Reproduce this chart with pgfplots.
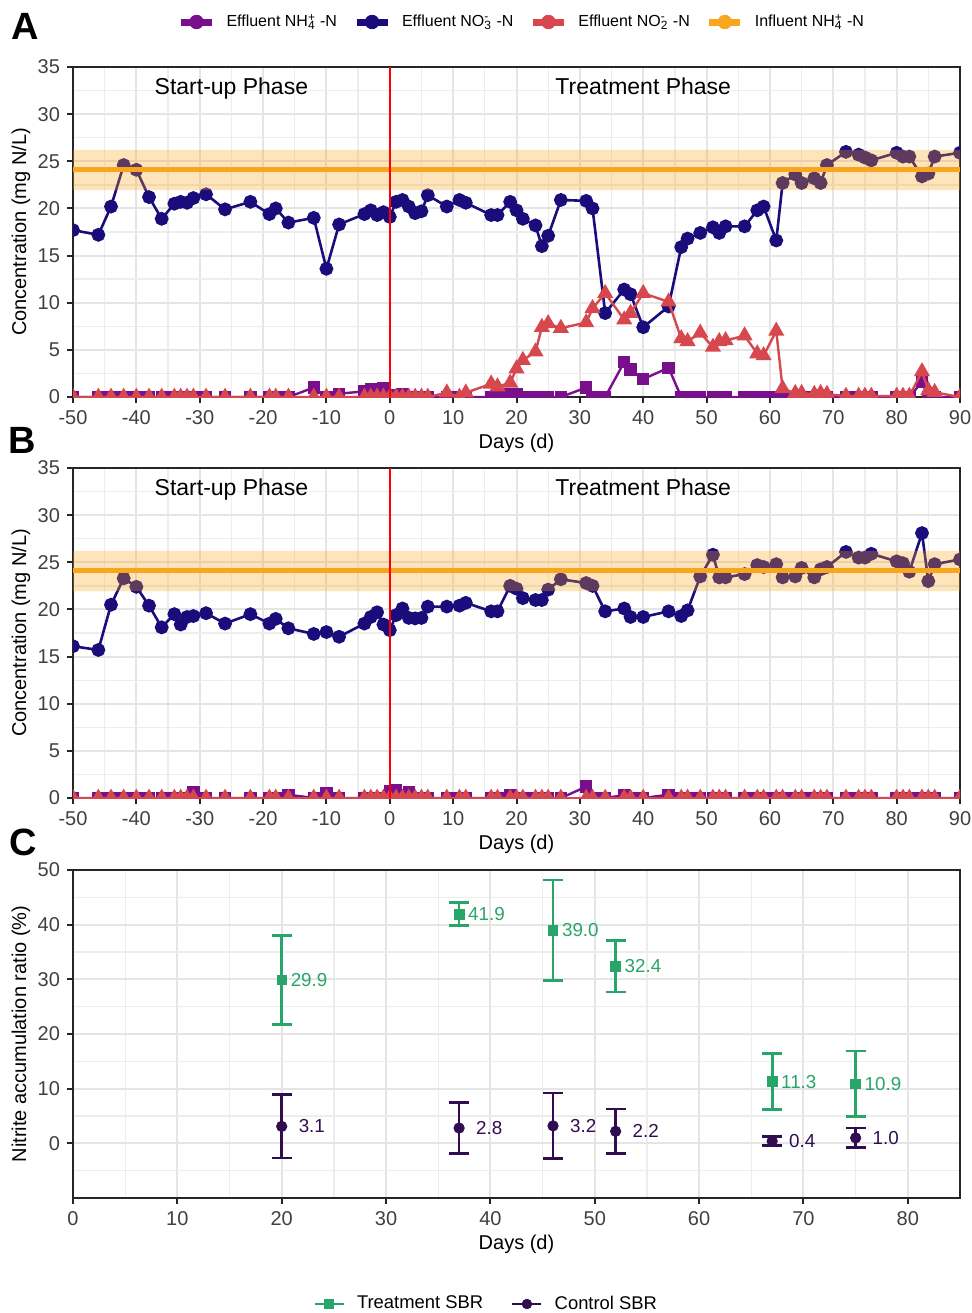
\documentclass[border=0pt]{standalone}
\usepackage{fontspec}
\setmainfont{Liberation Sans}
\usepackage{pgfplots}
\usepackage{pgfplotstable}
\pgfplotsset{compat=1.18}

\definecolor{nhfour}{RGB}{122,15,140}
\definecolor{nothree}{RGB}{26,12,122}
\definecolor{notwo}{RGB}{215,72,78}
\definecolor{infl}{RGB}{250,165,30}
\definecolor{trt}{RGB}{40,165,105}
\definecolor{ctl}{RGB}{50,12,80}

% Reactor A (treatment): effluent nitrogen species
\pgfplotstableread{
day  no3   no2   nh4
-50  17.7  0     0
-46  17.2  0     0
-44  20.2  0     0
-42  24.6  0     0
-40  24.1  0     0
-38  21.2  0     0
-36  18.9  0     0
-34  20.5  0     0
-33  20.7  0     0
-32  20.6  0     0
-31  21.1  0     0
-29  21.5  0     0
-26  19.9  0     0
-22  20.7  0     0
-19  19.4  0     0
-18  20.0  0     0
-16  18.5  0     0
-12  19.0  0     1.0
-10  13.6  0     0
-8   18.3  0     0.35
-4   19.4  0     0.6
-3   19.8  0     0.85
-2   19.3  0     0.3
-1   19.6  0     0.95
0    19.1  0     0
1    20.7  0     0.2
2    20.9  0     0.35
3    20.2  0     0
4    19.5  0     0
5    19.7  0     0
6    21.4  0     0
9    20.2  0.45  0
11   20.9  0     0
12   20.6  0.45  0
16   19.3  1.4   0
17   19.3  1.1   0
19   20.7  1.5   0.35
20   19.8  3.0   0.35
21   18.9  3.9   0
23   18.2  4.8   0
24   16.0  7.4   0
25   17.1  7.8   0
27   20.9  7.3   0
31   20.8  7.9   1.0
32   20.0  9.4   0
34   8.9   11.0  0
37   11.4  8.2   3.7
38   10.9  8.9   2.9
40   7.4   11.0  1.9
44   9.6   10.1  3.1
46   15.9  6.2   0
47   16.8  5.9   0
49   17.4  6.8   0
51   18.0  5.3   0
52   17.4  5.9   0
53   18.1  6.0   0
56   18.1  6.5   0
58   19.8  4.6   0
59   20.2  4.4   0
61   16.6  7.0   0
62   22.7  0.9   0
64   23.6  0.4   0
65   22.7  0.4   0
67   23.2  0.3   0
68   22.7  0.4   0
69   24.6  0.3   0
72   26.0  0.1   0
74   25.7  0.1   0
75   25.4  0.1   0
76   25.1  0.1   0
80   25.9  0.1   0
81   25.5  0.1   0
82   25.5  0.1   0
84   23.4  2.7   1.6
85   23.7  0.7   0
86   25.5  0.5   0
90   25.9  0     0
}\dataA

% Reactor B (control): effluent nitrogen species
\pgfplotstableread{
day  no3   no2   nh4
-50  16.1  0     0
-46  15.7  0     0
-44  20.5  0     0
-42  23.3  0     0
-40  22.4  0     0
-38  20.4  0     0
-36  18.1  0     0
-34  19.5  0     0
-33  18.4  0     0
-32  19.2  0     0
-31  19.3  0     0.6
-29  19.6  0     0
-26  18.5  0     0
-22  19.5  0     0
-19  18.5  0     0
-18  19.0  0     0
-16  18.0  0     0.35
-12  17.4  0     0
-10  17.6  0     0.5
-8   17.1  0     0
-4   18.5  0     0
-3   19.2  0     0
-2   19.7  0     0
-1   18.4  0     0
0    17.8  0     0.7
1    19.4  0     0.8
2    20.1  0     0
3    19.1  0     0.6
4    19.05 0     0
5    19.1  0     0
6    20.3  0     0
9    20.3  0     0
11   20.4  0     0
12   20.7  0     0
16   19.8  0     0
17   19.8  0     0
19   22.5  0     0.3
20   22.2  0     0
21   21.2  0     0
23   21.0  0     0
24   21.0  0     0
25   22.1  0     0
27   23.2  0     0
31   22.8  0     1.2
32   22.5  0     0
34   19.8  0     0
37   20.1  0     0.3
38   19.2  0     0
40   19.2  0     0
44   19.8  0     0.35
46   19.3  0     0
47   19.9  0     0
49   23.5  0     0
51   25.8  0     0
52   23.4  0     0
53   23.4  0     0
56   23.75 0     0
58   24.7  0     0
59   24.5  0     0
61   24.8  0     0
62   23.4  0     0
64   23.5  0     0
65   24.4  0     0
67   23.4  0     0
68   24.25 0     0
69   24.5  0     0
72   26.1  0     0
74   25.5  0     0
75   25.5  0     0
76   25.9  0     0
80   25.1  0     0
81   24.9  0     0
82   24.0  0     0
84   28.1  0     0
85   23.0  0     0
86   24.8  0     0
90   25.3  0     0
}\dataB

% Nitrite accumulation ratio, mean and standard deviation
\pgfplotstableread{
day  trt   trterr  ctl  ctlerr
20   29.9  8.1     3.1  5.8
37   41.9  2.1     2.8  4.7
46   39.0  9.2     3.2  6.0
52   32.4  4.7     2.2  4.1
67   11.3  5.1     0.4  0.8
75   10.9  6.0     1.0  1.8
}\dataC

\tikzset{phase/.style={font=\fontsize{11.5}{13}\selectfont, anchor=base}}

\pgfplotsset{
  baseaxis/.style={
    scale only axis,
    grid=both,
    major grid style={draw=gray!20, line width=1pt},
    minor grid style={draw=gray!14, line width=0.65pt},
    axis line style={draw=black!85, line width=0.7pt},
    xtick pos=left, ytick pos=left,
    tick align=outside,
    major tick length=3pt, minor tick length=0pt,
    tick style={draw=black!85, line width=1pt},
    tick label style={font=\fontsize{10}{12}\selectfont, text=black!75},
    /pgf/number format/assume math mode=true,
    label style={font=\fontsize{10}{12}\selectfont},
    clip marker paths=true,
    every axis x label/.style={at={(axis description cs:0.5,0)}, anchor=center, yshift=-23pt},
    every axis y label/.style={at={(axis description cs:0,0.5)}, xshift=-26pt, anchor=center, rotate=90},
  },
  concaxis/.style={
    baseaxis,
    width=443.5pt, height=165pt,
    xmin=-50, xmax=90, ymin=0, ymax=35,
    xtick={-50,-40,...,90}, ytick={0,5,...,35},
    minor xtick={-45,-35,...,85}, minor ytick={2.5,7.5,...,32.5},
    xlabel={Days (d)}, ylabel={Concentration (mg N/L)},
  },
  nhstyle/.style={color=nhfour, line width=1.2pt, mark=square*, mark size=2.5pt, mark options={solid}},
  nothreestyle/.style={color=nothree, line width=1.3pt, mark=*, mark size=2.8pt, mark options={solid}},
  notwostyle/.style={color=notwo, line width=1.2pt, mark=triangle*, mark size=3.5pt, mark options={solid}},
}

\begin{document}
\begin{tikzpicture}
\path[use as bounding box] (0pt,0pt) rectangle (485.5pt,-656.5pt);

% ---------------- Panel A ----------------
\begin{axis}[concaxis, at={(36.5pt,-33.5pt)}, anchor=north west,
  legend style={draw=none, fill=none, at={(axis description cs:0.507,1)}, anchor=center, yshift=22.5pt,
    font=\fontsize{8}{9.6}\selectfont, legend columns=4,
    /tikz/every odd column/.append style={column sep=3.5pt},
    /tikz/every even column/.append style={column sep=6pt}},
  legend cell align=left]
\addlegendimage{legend image code/.code={\draw[draw=nhfour, line width=3.5pt] (0pt,0pt) -- (15.5pt,0pt); \fill[nhfour] (7.75pt,0pt) circle (3.4pt);}}
\addlegendentry{Effluent NH\rlap{\textsuperscript{+}}\textsubscript{4} -N}
\addlegendimage{legend image code/.code={\draw[draw=nothree, line width=3.5pt] (0pt,0pt) -- (15.5pt,0pt); \fill[nothree] (7.75pt,0pt) circle (3.4pt);}}
\addlegendentry{Effluent NO\rlap{\textsuperscript{-}}\textsubscript{3} -N}
\addlegendimage{legend image code/.code={\draw[draw=notwo, line width=3.5pt] (0pt,0pt) -- (15.5pt,0pt); \fill[notwo] (7.75pt,0pt) circle (3.4pt);}}
\addlegendentry{Effluent NO\rlap{\textsuperscript{-}}\textsubscript{2} -N}
\addlegendimage{legend image code/.code={\draw[draw=infl, line width=3.5pt] (0pt,0pt) -- (15.5pt,0pt); \fill[infl] (7.75pt,0pt) circle (3.4pt);}}
\addlegendentry{Influent NH\rlap{\textsuperscript{+}}\textsubscript{4} -N}

\addplot[nhstyle, forget plot] table[x=day, y=nh4] {\dataA};
\addplot[nothreestyle, forget plot] table[x=day, y=no3] {\dataA};
\addplot[notwostyle, forget plot] table[x=day, y=no2] {\dataA};
% influent ammonium: mean and spread
\addplot[draw=none, fill=infl, fill opacity=0.3, forget plot] coordinates {(-50,21.95) (90,21.95) (90,26.2) (-50,26.2) (-50,21.95)};
\addplot[infl, line width=2.5pt, forget plot] coordinates {(-50,24.1) (90,24.1)};
\addplot[red, line width=1pt, forget plot] coordinates {(0,0) (0,35)};
\node[phase] at (axis cs:-25,32.1) {Start-up Phase};
\node[phase] at (axis cs:40,32.1) {Treatment Phase};
\end{axis}

% ---------------- Panel B ----------------
\begin{axis}[concaxis, at={(36.5pt,-234pt)}, anchor=north west]
\addplot[nhstyle] table[x=day, y=nh4] {\dataB};
\addplot[nothreestyle] table[x=day, y=no3] {\dataB};
\addplot[notwostyle] table[x=day, y=no2] {\dataB};
\addplot[draw=none, fill=infl, fill opacity=0.3] coordinates {(-50,21.95) (90,21.95) (90,26.2) (-50,26.2) (-50,21.95)};
\addplot[infl, line width=2.5pt] coordinates {(-50,24.1) (90,24.1)};
\addplot[red, line width=1pt] coordinates {(0,0) (0,35)};
\node[phase] at (axis cs:-25,32.1) {Start-up Phase};
\node[phase] at (axis cs:40,32.1) {Treatment Phase};
\end{axis}

% ---------------- Panel C ----------------
\begin{axis}[baseaxis, at={(36.5pt,-435pt)}, anchor=north west,
  width=443.5pt, height=164pt,
  xmin=0, xmax=85, ymin=-10, ymax=50,
  xtick={0,10,...,80}, ytick={0,10,...,50},
  minor xtick={5,15,...,85}, minor ytick={-5,5,...,45},
  xlabel={Days (d)}, ylabel={Nitrite accumulation ratio (\%)},
  legend style={draw=none, fill=none, at={(axis description cs:0.467,0)}, anchor=center, yshift=-53pt,
    font=\fontsize{9.2}{11}\selectfont, legend columns=2,
    /tikz/every odd column/.append style={column sep=4pt},
    /tikz/every even column/.append style={column sep=12pt}},
  legend cell align=left]
\addlegendimage{legend image code/.code={\draw[draw=trt, line width=1.3pt] (0pt,0pt) -- (14.5pt,0pt); \fill[trt] (5.05pt,-2.2pt) rectangle (9.45pt,2.2pt);}}
\addlegendentry{Treatment SBR}
\addlegendimage{legend image code/.code={\draw[draw=ctl, line width=1.3pt] (0pt,0pt) -- (14.5pt,0pt); \fill[ctl] (7.25pt,0pt) circle (2.4pt);}}
\addlegendentry{Control SBR}

\addplot[forget plot, only marks, color=trt, mark=square*, mark size=2.4pt,
  error bars/.cd, y dir=both, y explicit,
  error bar style={line width=1.35pt, trt},
  error mark options={rotate=90, line width=1.35pt, mark size=5pt, trt}]
  table[x=day, y=trt, y error=trterr] {\dataC};
\addplot[forget plot, only marks, color=ctl, mark=*, mark size=2.6pt,
  error bars/.cd, y dir=both, y explicit,
  error bar style={line width=1.35pt, ctl},
  error mark options={rotate=90, line width=1.35pt, mark size=5pt, ctl}]
  table[x=day, y=ctl, y error=ctlerr] {\dataC};
% value labels
\addplot[forget plot, only marks, mark=none, nodes near coords={\pgfmathprintnumber[fixed, fixed zerofill, precision=1, assume math mode=true]{\pgfplotspointmeta}},
  nodes near coords style={anchor=west, xshift=1pt, text=trt, font=\fontsize{9.4}{11}\selectfont}]
  table[x=day, y=trt] {\dataC};
\addplot[forget plot, only marks, mark=none, nodes near coords={\pgfmathprintnumber[fixed, fixed zerofill, precision=1, assume math mode=true]{\pgfplotspointmeta}},
  nodes near coords style={anchor=west, xshift=5pt, text=ctl, font=\fontsize{9.4}{11}\selectfont}]
  table[x=day, y=ctl] {\dataC};
\end{axis}

\node[font=\bfseries\fontsize{19}{22}\selectfont] at (12.5pt,-13pt) {A};
\node[font=\bfseries\fontsize{19}{22}\selectfont] at (11pt,-220pt) {B};
\node[font=\bfseries\fontsize{19}{22}\selectfont] at (11.5pt,-421pt) {C};
\end{tikzpicture}
\end{document}
